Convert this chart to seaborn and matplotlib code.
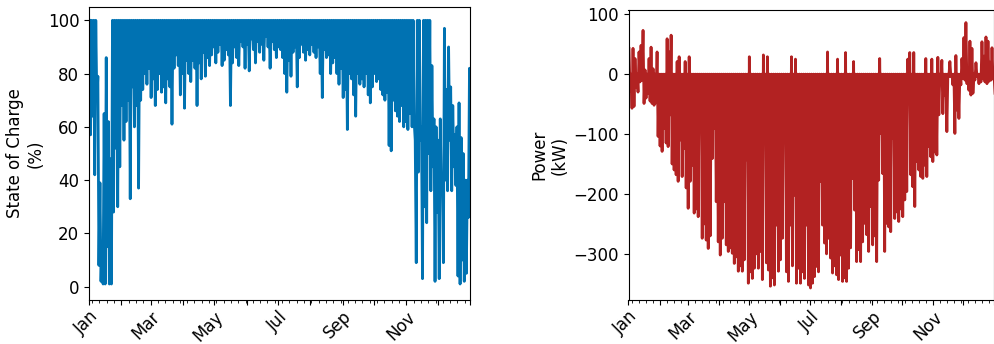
import numpy as np
import pandas as pd
import matplotlib
matplotlib.use("Agg")
import matplotlib.pyplot as plt
import matplotlib.dates as mdates
from matplotlib.ticker import FuncFormatter
import seaborn as sns

# ---- data: 2-day envelope values ----
# State of charge (%): daily high / low, one value per 2-day period (183 periods)
soc_high = [
    100, 100, 100, 100, 79, 39, 16, 65, 86, 62,
    48, 100, 100, 100, 100, 100, 100, 100, 100, 100,
    100, 100, 100, 100, 100, 100, 100, 100, 100, 100,
    100, 100, 100, 100, 100, 100, 100, 100, 100, 100,
    100, 100, 100, 100, 100, 100, 100, 100, 100, 100,
    100, 100, 100, 100, 100, 100, 100, 100, 100, 100,
    100, 100, 100, 100, 100, 100, 100, 100, 100, 100,
    100, 100, 100, 100, 100, 100, 100, 100, 100, 100,
    100, 100, 100, 100, 100, 100, 100, 100, 100, 100,
    100, 100, 100, 100, 100, 100, 100, 100, 100, 100,
    100, 100, 100, 100, 100, 100, 100, 100, 100, 100,
    100, 100, 100, 100, 100, 100, 100, 100, 100, 100,
    100, 100, 100, 100, 100, 100, 100, 100, 100, 100,
    100, 100, 100, 100, 100, 100, 100, 100, 100, 100,
    100, 100, 100, 100, 100, 100, 100, 100, 100, 100,
    100, 100, 100, 100, 100, 100, 55, 100, 100, 60,
    100, 100, 100, 100, 83, 63, 60, 55, 63, 40,
    97, 74, 90, 75, 68, 57, 60, 69, 56, 50,
    40, 40, 82,
]
soc_low = [
    57, 64, 42, 70, 8, 2, 1, 1, 15, 1,
    1, 28, 52, 30, 45, 68, 55, 62, 70, 33,
    75, 60, 68, 37, 70, 74, 80, 76, 82, 71,
    78, 68, 74, 80, 73, 75, 69, 78, 75, 61,
    82, 87, 83, 72, 80, 67, 85, 80, 77, 85,
    82, 68, 84, 78, 88, 79, 86, 83, 87, 90,
    84, 88, 91, 83, 85, 89, 87, 68, 84, 90,
    86, 83, 92, 90, 82, 91, 81, 93, 89, 84,
    92, 88, 91, 85, 94, 90, 82, 92, 89, 86,
    90, 89, 86, 80, 73, 85, 79, 88, 90, 75,
    86, 91, 88, 85, 89, 87, 91, 88, 86, 90,
    80, 71, 89, 86, 87, 80, 84, 86, 80, 76,
    82, 71, 74, 59, 80, 78, 72, 64, 80, 76,
    78, 75, 80, 72, 69, 75, 80, 77, 78, 74,
    72, 70, 73, 53, 51, 70, 66, 64, 62, 68,
    60, 62, 59, 65, 60, 62, 9, 43, 55, 3,
    30, 24, 50, 36, 45, 2, 28, 3, 35, 9,
    40, 36, 55, 36, 45, 38, 4, 1, 10, 2,
    5, 26, 40,
]

# Battery power (kW): daily max (discharge) / min (charge), per 2-day period
pw_high = [
    43, 0, 43, 26, 0, 37, 48, 73, 7, 0,
    26, 45, 9, 0, 37, 0, 0, 0, 0, 59,
    37, 65, 0, 0, 21, 29, 0, 0, 21, 0,
    29, 0, 0, 0, 0, 0, 0, 0, 0, 0,
    0, 0, 0, 0, 0, 0, 0, 0, 0, 0,
    0, 0, 0, 0, 0, 0, 0, 0, 0, 0,
    29, 0, 0, 0, 0, 0, 0, 32, 0, 29,
    0, 0, 0, 0, 0, 0, 0, 0, 0, 0,
    0, 29, 0, 25, 0, 0, 0, 0, 0, 0,
    0, 0, 0, 0, 0, 0, 0, 0, 0, 37,
    0, 0, 0, 0, 25, 0, 0, 0, 36, 0,
    0, 0, 21, 0, 0, 0, 0, 0, 0, 0,
    0, 0, 0, 0, 0, 26, 0, 0, 0, 0,
    0, 0, 0, 0, 0, 0, 0, 0, 0, 25,
    36, 0, 36, 0, 0, 0, 0, 0, 26, 0,
    0, 25, 0, 0, 28, 0, 23, 0, 0, 0,
    21, 0, 0, 31, 0, 0, 26, 61, 86, 0,
    55, 43, 0, 19, 0, 0, 54, 30, 62, 55,
    20, 44, 0,
]
pw_low = [
    -29, -57, -54, -22, -30, -13, -10, -49, -40, -32,
    -45, -49, -52, -48, -104, -120, -129, -91, -115, -121,
    -68, -150, -160, -168, -179, -110, -171, -124, -190, -224,
    -179, -152, -232, -225, -238, -63, -274, -250, -277, -291,
    -270, -141, -91, -213, -280, -302, -274, -213, -285, -296,
    -290, -299, -316, -305, -329, -320, -329, -310, -143, -349,
    -330, -341, -324, -300, -324, -296, -343, -96, -315, -327,
    -354, -340, -352, -252, -329, -310, -274, -104, -330, -346,
    -252, -320, -202, -349, -324, -349, -330, -341, -252, -352,
    -357, -349, -338, -321, -330, -179, -252, -282, -300, -274,
    -307, -332, -320, -335, -343, -302, -346, -340, -346, -324,
    -290, -174, -227, -313, -293, -313, -280, -249, -268, -296,
    -221, -285, -270, -313, -177, -99, -166, -296, -249, -255,
    -263, -107, -241, -230, -246, -225, -238, -210, -196, -24,
    -168, -188, -221, -146, -160, -171, -174, -152, -171, -121,
    -138, -146, -130, -135, -68, -16, -66, -35, -96, -4,
    -4, -18, -99, -60, -74, -18, -7, -10, -16, -27,
    -35, -32, -10, -4, -16, -13, -8, -13, -16, -12,
    -10, -8, -32,
]

month_labels = ["Jan", "", "Mar", "", "May", "", "Jul", "", "Sep", "", "Nov", ""]
soc_ylabel = "State of Charge\n(%)"
pw_ylabel = "Power\n(kW)"

# ---- build long-form time series (high then low within each 2-day period) ----
start = pd.Timestamp("2021-01-01")
n = len(soc_low)
period_start = np.arange(n) * 2.0
t_days = np.empty(2 * n)
t_days[0::2] = period_start + 0.5
t_days[1::2] = period_start + 1.5
times = start + pd.to_timedelta(t_days, unit="D")

soc = np.empty(2 * n)
soc[0::2] = soc_high
soc[1::2] = soc_low
pw = np.empty(2 * n)
pw[0::2] = pw_high
pw[1::2] = pw_low

df = pd.DataFrame({"time": times, "soc": soc, "power": pw})

# ---- figure ----
plt.rcParams["font.family"] = ["DejaVu Sans"]
plt.rcParams["font.size"] = 12
W, H = 994, 344
fig = plt.figure(figsize=(W / 100, H / 100), dpi=100)
ax1 = fig.add_axes([89 / W, 44 / H, 381 / W, 293 / H])
ax2 = fig.add_axes([628.5 / W, 44 / H, 366 / W, 290 / H])

sns.lineplot(data=df, x="time", y="soc", ax=ax1, color="#0072B2", lw=2.0,
             estimator=None, sort=False)
sns.lineplot(data=df, x="time", y="power", ax=ax2, color="#B22222", lw=2.0,
             estimator=None, sort=False)

end = start + pd.Timedelta(days=365)


def month_fmt(x, pos):
    d = mdates.num2date(x)
    if d.year != start.year:
        return ""
    return month_labels[d.month - 1]


for ax in (ax1, ax2):
    ax.set_xlim(start, end)
    ax.xaxis.set_major_locator(mdates.MonthLocator())
    ax.xaxis.set_minor_locator(mdates.WeekdayLocator(byweekday=mdates.MO))
    ax.xaxis.set_major_formatter(FuncFormatter(month_fmt))
    ax.set_xlabel("")
    ax.tick_params(axis="both", labelsize=12)
    ax.tick_params(axis="x", which="major", pad=2)
    for lab in ax.get_xticklabels():
        lab.set_rotation(45)
        lab.set_ha("right")
        lab.set_rotation_mode("anchor")

ax1.set_ylim(-5, 105)
ax1.set_yticks([0, 20, 40, 60, 80, 100])
ax1.set_ylabel(soc_ylabel, fontsize=12, labelpad=2)

ax2.set_ylim(-377, 107)
ax2.set_yticks([-300, -200, -100, 0, 100])
ax2.set_ylabel(pw_ylabel, fontsize=12, labelpad=3)

fig.savefig("out.png", dpi=100)
